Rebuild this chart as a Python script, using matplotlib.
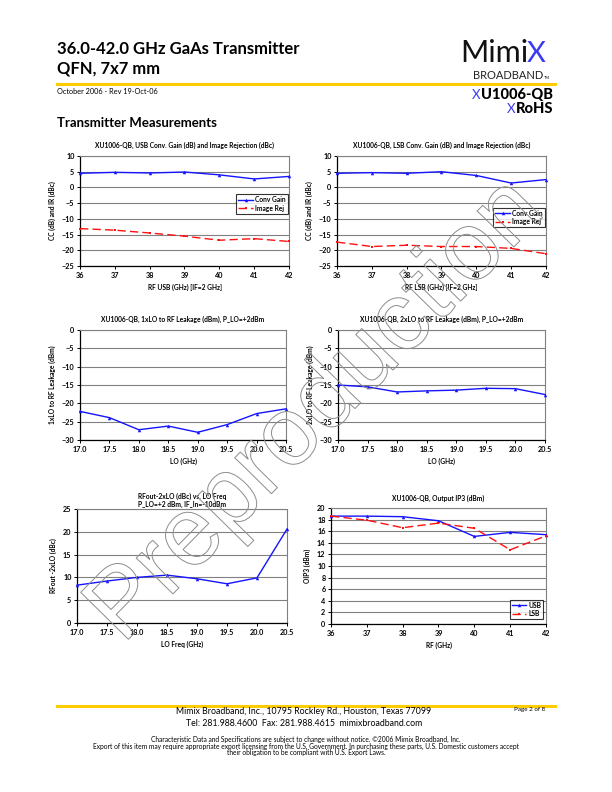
import matplotlib
matplotlib.use("Agg")
import matplotlib.pyplot as plt
import matplotlib.patheffects as pe
import numpy as np

W, H = 612, 792
plt.rcParams['font.family'] = ['Lato', 'DejaVu Sans']

# ---- data ----
rf = [36, 37, 38, 39, 40, 41, 42]
lo = [17.0, 17.5, 18.0, 18.5, 19.0, 19.5, 20.0, 20.5]

usb_gain = [4.5, 4.8, 4.6, 4.9, 4.0, 2.7, 3.5]
usb_imrej = [-13.1, -13.6, -14.5, -15.5, -16.8, -16.3, -17.2]
lsb_gain = [4.5, 4.7, 4.5, 5.0, 3.8, 1.4, 2.5]
lsb_imrej = [-17.4, -18.8, -18.4, -18.8, -18.8, -19.4, -21.1]
lo_leak_1x = [-22.2, -23.9, -27.2, -26.2, -27.9, -25.8, -22.8, -21.5]
lo_leak_2x = [-15.0, -15.5, -16.9, -16.6, -16.4, -15.9, -16.0, -17.6]
rfout_2xlo = [8.3, 9.2, 10.0, 10.5, 9.7, 8.6, 9.9, 20.6]
oip3_usb = [18.6, 18.6, 18.5, 17.8, 15.1, 15.8, 15.4]
oip3_lsb = [18.6, 17.9, 16.6, 17.4, 16.5, 12.8, 15.2]

BLUE = '#1414ff'
RED = '#ff1010'
GOLD = '#ffcc00'
LOGO_BLUE = '#3a3af0'
FS = 4.8
TS = 5.2

fig = plt.figure(figsize=(W / 100, H / 100), dpi=100)


def px(x, y):
    return x / W, 1 - y / H


def ax_at(l, t, r, b):
    return fig.add_axes([l / W, 1 - b / H, (r - l) / W, (b - t) / H])


def style(ax, x, ylim, ystep, xfmt, title, xlabel, ylabel, tpad=6):
    ax.set_xlim(x[0], x[-1])
    ax.set_ylim(*ylim)
    ax.set_xticks(x)
    ax.set_xticklabels([xfmt % v for v in x])
    ax.set_yticks(np.arange(ylim[0], ylim[1] + 0.01, ystep))
    ax.yaxis.grid(True, color='#808080', lw=0.8)
    ax.set_axisbelow(True)
    for s in ('top', 'right'):
        ax.spines[s].set_color('#808080')
        ax.spines[s].set_linewidth(0.8)
    for s in ('left', 'bottom'):
        ax.spines[s].set_color('black')
        ax.spines[s].set_linewidth(0.9)
    ax.tick_params(direction='out', length=2, width=0.7, pad=2,
                   labelsize=TS)
    for lab in ax.get_xticklabels() + ax.get_yticklabels():
        lab.set_fontweight('bold')
    ax.set_title(title, fontsize=FS, fontweight='bold', pad=tpad,
                 linespacing=1.1)
    ax.set_xlabel(xlabel, fontsize=FS, fontweight='bold', labelpad=4)
    ax.set_ylabel(ylabel, fontsize=FS, fontweight='bold', labelpad=4)


def blue_line(ax, x, y, label=None):
    ax.plot(x, y, color=BLUE, lw=1.0, marker='^', ms=2.5, mew=0,
            label=label, clip_on=False, zorder=3)


def red_line(ax, x, y, label=None):
    ax.plot(x, y, color=RED, lw=1.0, ls=(0, (6, 3)), marker='s', ms=1.8,
            mew=0, label=label, clip_on=False, zorder=3)


def legend(ax, loc_px, w_px, h_px):
    l, t = loc_px
    bb = (l / W, 1 - (t + h_px) / H, w_px / W, h_px / H)
    leg = ax.legend(loc='center', bbox_to_anchor=bb,
                    bbox_transform=fig.transFigure, fontsize=FS,
                    frameon=True, fancybox=False, borderpad=0.3,
                    handlelength=2.2, handletextpad=0.3, labelspacing=0.2,
                    borderaxespad=0)
    leg.get_frame().set_edgecolor('black')
    leg.get_frame().set_linewidth(0.8)
    for t_ in leg.get_texts():
        t_.set_fontweight('bold')


# ---- chart 1: USB conversion gain ----
ax1 = ax_at(80, 156, 289, 266)
blue_line(ax1, rf, usb_gain, 'Conv Gain')
red_line(ax1, rf, usb_imrej, 'Image Rej')
style(ax1, rf, (-25, 10), 5, '%d',
      'XU1006-QB, USB Conv. Gain (dB) and Image Rejection (dBc)',
      'RF USB (GHz) [IF=2 GHz]', 'CC (dB) and IR (dBc)')
legend(ax1, (238, 195), 48, 18)

# ---- chart 2: LSB conversion gain ----
ax2 = ax_at(337, 156, 546, 266)
blue_line(ax2, rf, lsb_gain, 'Conv Gain')
red_line(ax2, rf, lsb_imrej, 'Image Rej')
style(ax2, rf, (-25, 10), 5, '%d',
      'XU1006-QB, LSB Conv. Gain (dB) and Image Rejection (dBc)',
      'RF LSB (GHz) [IF=2 GHz]', 'CC (dB) and IR (dBc)')
legend(ax2, (495, 208), 48, 19)

# ---- chart 3: 1xLO leakage ----
ax3 = ax_at(80, 330, 286, 440)
blue_line(ax3, lo, lo_leak_1x)
style(ax3, lo, (-30, 0), 5, '%.1f',
      'XU1006-QB, 1xLO to RF Leakage (dBm), P_LO=+2dBm',
      'LO (GHz)', '1xLO to RF Leakage (dBm)')

# ---- chart 4: 2xLO leakage ----
ax4 = ax_at(338, 330, 545, 440)
blue_line(ax4, lo, lo_leak_2x)
style(ax4, lo, (-30, 0), 5, '%.1f',
      'XU1006-QB, 2xLO to RF Leakage (dBm), P_LO=+2dBm',
      'LO (GHz)', '2xLO to RF Leakage (dBm)')

# ---- chart 5: RFout-2xLO ----
ax5 = ax_at(77, 509, 287, 623)
blue_line(ax5, lo, rfout_2xlo)
style(ax5, lo, (0, 25), 5, '%.1f',
      'RFout-2xLO (dBc) vs. LO Freq\nP_LO=+2 dBm, IF_In=-10dBm',
      'LO Freq (GHz)', 'RFout -2xLO (dBc)', tpad=1.5)

# ---- chart 6: OIP3 ----
ax6 = ax_at(331, 508, 546, 624)
blue_line(ax6, rf, oip3_usb, 'USB')
red_line(ax6, rf, oip3_lsb, 'LSB')
style(ax6, rf, (0, 20), 2, '%d',
      'XU1006-QB, Output IP3 (dBm)', 'RF (GHz)', 'OIP3 (dBm)', tpad=5)
legend(ax6, (511, 601), 31, 17)

# ---- page header ----
fig.text(*px(57, 54), '36.0-42.0 GHz GaAs Transmitter', fontsize=12,
         fontweight='bold', va='baseline')
fig.text(*px(57, 73), 'QFN, 7x7 mm', fontsize=12, fontweight='bold',
         va='baseline')
fig.add_artist(plt.Line2D([57 / W, 555 / W], [1 - 84 / H] * 2,
                          color=GOLD, lw=2.2))
fig.text(*px(57, 91), 'October 2006 - Rev 19-Oct-06', fontsize=5.3,
         va='center')
fig.text(*px(57, 123), 'Transmitter Measurements', fontsize=9.5,
         fontweight='bold', va='center')

# logo
fig.text(*px(528, 62), 'Mimi', fontsize=22, color='#111111',
         ha='right', va='baseline')
fig.text(*px(527, 62), 'X', fontsize=21, color=LOGO_BLUE,
         ha='left', va='baseline')
fig.text(*px(543, 79), 'BROADBAND', fontsize=8, color='#222222',
         ha='right', va='baseline')
fig.text(*px(544, 79), 'TM', fontsize=2.8, ha='left', va='baseline')
fig.text(*px(553, 99), 'U1006-QB', fontsize=10.5, fontweight='black',
         ha='right', va='baseline')
fig.text(*px(480, 99), 'X', fontsize=9.5, color=LOGO_BLUE,
         ha='right', va='baseline')
fig.text(*px(553, 113), 'RoHS', fontsize=10.5, fontweight='black',
         ha='right', va='baseline')
fig.text(*px(515, 113), 'X', fontsize=9.5, color=LOGO_BLUE,
         ha='right', va='baseline')

# ---- footer ----
fig.add_artist(plt.Line2D([57 / W, 555 / W], [1 - 706 / H] * 2,
                          color=GOLD, lw=2.2))
fig.text(*px(304, 712), 'Mimix Broadband, Inc., 10795 Rockley Rd., Houston, Texas 77099',
         fontsize=6.3, ha='center', va='center')
fig.text(*px(304, 723), 'Tel: 281.988.4600  Fax: 281.988.4615  mimixbroadband.com',
         fontsize=6.3, ha='center', va='center')
fig.text(*px(545, 710), 'Page 2 of 8', fontsize=4.5, ha='right', va='center')
fig.text(*px(306, 739), 'Characteristic Data and Specifications are subject to change without notice. \u00a92006 Mimix Broadband, Inc.',
         fontsize=4.8, ha='center', va='center')
fig.text(*px(306, 746), 'Export of this item may require appropriate export licensing from the U.S. Government. In purchasing these parts, U.S. Domestic customers accept',
         fontsize=4.8, ha='center', va='center')
fig.text(*px(306, 753), 'their obligation to be compliant with U.S. Export Laws.',
         fontsize=4.8, ha='center', va='center')

# ---- watermark ----
fig.text(*px(335, 429), 'Preproduction', fontsize=70,
         family='Liberation Sans', color='none', rotation=45.5,
         rotation_mode='anchor', ha='center', va='baseline', zorder=10,
         path_effects=[pe.withStroke(linewidth=0.7, foreground='#8c8c8c')])

fig.savefig('out.png', dpi=100)
